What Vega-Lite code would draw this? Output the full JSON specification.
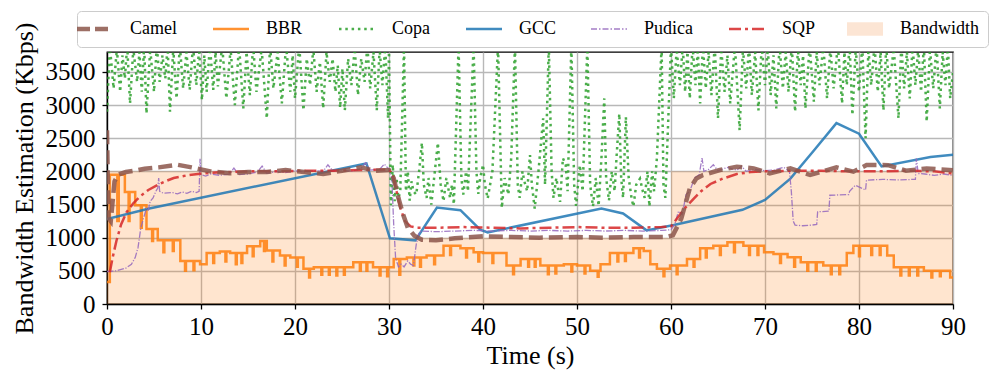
{
"$schema": "https://vega.github.io/schema/vega-lite/v6.json",
"width": 846, "height": 252,
"autosize": {"type": "none"},
"padding": {"left": 107, "top": 52, "right": 44, "bottom": 77},
"background": "white",
"datasets": {
"bw": [{"t":0,"v":2000},{"t":30,"v":1000},{"t":60,"v":2000},{"t":90,"v":2000}],
"gcc": [{"t":0,"v":1280},{"t":4.5,"v":1440},{"t":27.6,"v":2120},{"t":30.1,"v":990},{"t":32.8,"v":960},{"t":35.1,"v":1455},{"t":37.6,"v":1415},{"t":39.7,"v":1120},{"t":40.5,"v":1080},{"t":52.6,"v":1440},{"t":54.9,"v":1365},{"t":57.4,"v":1110},{"t":60.3,"v":1190},{"t":67.6,"v":1420},{"t":70,"v":1570},{"t":72.7,"v":1890},{"t":75.2,"v":2315},{"t":77.6,"v":2728},{"t":80,"v":2568},{"t":82.4,"v":2074},{"t":87.6,"v":2215},{"t":90,"v":2250}],
"camel": [{"t":0,"v":2620},{"t":0.15,"v":1300},{"t":0.4,"v":1250},{"t":0.8,"v":1850},{"t":1.2,"v":1950},{"t":2,"v":1990},{"t":3,"v":2010},{"t":4,"v":2040},{"t":5.5,"v":2060},{"t":7.5,"v":2100},{"t":9,"v":2060},{"t":11,"v":2000},{"t":13,"v":1970},{"t":15,"v":1990},{"t":17,"v":1990},{"t":19,"v":2020},{"t":21,"v":1990},{"t":23,"v":1960},{"t":25,"v":2010},{"t":27,"v":2060},{"t":28.5,"v":2010},{"t":30,"v":2020},{"t":30.5,"v":1900},{"t":31,"v":1600},{"t":31.5,"v":1350},{"t":32,"v":1150},{"t":32.7,"v":1030},{"t":33.5,"v":970},{"t":35,"v":960},{"t":37,"v":990},{"t":40,"v":1020},{"t":43,"v":1010},{"t":46,"v":1000},{"t":50,"v":1010},{"t":53,"v":1000},{"t":56,"v":1010},{"t":59.5,"v":1010},{"t":60.2,"v":1036},{"t":61.1,"v":1290},{"t":62,"v":1743},{"t":62.7,"v":1894},{"t":63.4,"v":1945},{"t":65.2,"v":2020},{"t":67,"v":2070},{"t":68.8,"v":2045},{"t":70.5,"v":1970},{"t":72.7,"v":2045},{"t":74.8,"v":1945},{"t":76.6,"v":2020},{"t":77.6,"v":2060},{"t":79.4,"v":1995},{"t":80.8,"v":2095},{"t":83.1,"v":2094},{"t":85,"v":2010},{"t":87.2,"v":2044},{"t":90,"v":2018}],
"sqp": [{"t":0.3,"v":480},{"t":0.6,"v":700},{"t":1.0,"v":950},{"t":1.5,"v":1200},{"t":2.1,"v":1390},{"t":2.8,"v":1520},{"t":3.5,"v":1620},{"t":4.4,"v":1720},{"t":5.3,"v":1790},{"t":6.2,"v":1850},{"t":7.1,"v":1900},{"t":8.5,"v":1940},{"t":9.9,"v":1965},{"t":12,"v":1985},{"t":15,"v":2000},{"t":18,"v":2000},{"t":21,"v":2010},{"t":24,"v":2010},{"t":27,"v":2020},{"t":30,"v":2030},{"t":30.4,"v":1950},{"t":30.8,"v":1700},{"t":31.2,"v":1450},{"t":31.7,"v":1250},{"t":32.3,"v":1170},{"t":33,"v":1150},{"t":35,"v":1150},{"t":38,"v":1160},{"t":41,"v":1150},{"t":44,"v":1140},{"t":47,"v":1150},{"t":50,"v":1160},{"t":53,"v":1150},{"t":56,"v":1150},{"t":59,"v":1160},{"t":60,"v":1170},{"t":60.7,"v":1300},{"t":61.5,"v":1450},{"t":62.4,"v":1585},{"t":63.2,"v":1700},{"t":64.2,"v":1810},{"t":65.5,"v":1890},{"t":67,"v":1960},{"t":68.5,"v":1990},{"t":70,"v":2000},{"t":73,"v":2010},{"t":76,"v":2010},{"t":79,"v":2000},{"t":82,"v":2000},{"t":85,"v":2010},{"t":88,"v":2000},{"t":90,"v":1970}],
"pudica": [{"t":0,"v":490},{"t":1,"v":500},{"t":2,"v":540},{"t":2.6,"v":600},{"t":3,"v":700},{"t":3.3,"v":850},{"t":3.6,"v":1150},{"t":3.9,"v":1300},{"t":4.2,"v":1450},{"t":4.4,"v":1420},{"t":4.6,"v":1550},{"t":4.9,"v":1600},{"t":5.2,"v":1700},{"t":5.4,"v":1750},{"t":5.5,"v":1900},{"t":5.6,"v":1700},{"t":6,"v":1670},{"t":7,"v":1680},{"t":7.5,"v":1660},{"t":8,"v":1690},{"t":8.5,"v":1670},{"t":9,"v":1700},{"t":9.5,"v":1680},{"t":9.8,"v":1700},{"t":9.9,"v":2190},{"t":10,"v":1950},{"t":10.5,"v":1930},{"t":11,"v":1960},{"t":12,"v":1940},{"t":13,"v":1960},{"t":13.5,"v":2050},{"t":14,"v":1950},{"t":15,"v":1960},{"t":16,"v":1990},{"t":16.5,"v":2080},{"t":17,"v":1970},{"t":18,"v":2000},{"t":19,"v":1980},{"t":20,"v":2010},{"t":21,"v":1990},{"t":22,"v":2010},{"t":23,"v":2000},{"t":23.5,"v":2100},{"t":24,"v":2010},{"t":25,"v":2020},{"t":26,"v":2000},{"t":27,"v":2040},{"t":27.5,"v":2130},{"t":28,"v":2020},{"t":29,"v":2030},{"t":29.5,"v":2110},{"t":30,"v":2030},{"t":30.3,"v":1900},{"t":30.5,"v":1200},{"t":30.7,"v":700},{"t":31,"v":560},{"t":31.3,"v":600},{"t":31.6,"v":560},{"t":32,"v":650},{"t":32.3,"v":600},{"t":32.6,"v":580},{"t":32.9,"v":900},{"t":33.2,"v":1080},{"t":33.5,"v":1100},{"t":35,"v":1090},{"t":37,"v":1100},{"t":39,"v":1110},{"t":41,"v":1100},{"t":43,"v":1110},{"t":45,"v":1100},{"t":47,"v":1110},{"t":49,"v":1100},{"t":51,"v":1110},{"t":53,"v":1100},{"t":55,"v":1110},{"t":57,"v":1100},{"t":59,"v":1110},{"t":60,"v":1120},{"t":60.4,"v":1200},{"t":60.8,"v":1400},{"t":61.2,"v":1350},{"t":61.6,"v":1650},{"t":62,"v":1700},{"t":62.5,"v":1900},{"t":63,"v":1950},{"t":63.3,"v":2200},{"t":63.5,"v":2000},{"t":64,"v":2030},{"t":64.5,"v":2100},{"t":65,"v":2010},{"t":66,"v":2060},{"t":67,"v":2020},{"t":67.5,"v":2080},{"t":68,"v":2000},{"t":69,"v":2030},{"t":70,"v":2010},{"t":71,"v":2020},{"t":72,"v":2060},{"t":72.6,"v":2000},{"t":72.8,"v":1700},{"t":73,"v":1250},{"t":73.2,"v":1190},{"t":74,"v":1180},{"t":75,"v":1190},{"t":75.5,"v":1200},{"t":75.6,"v":1390},{"t":76.8,"v":1400},{"t":76.9,"v":1640},{"t":78.9,"v":1650},{"t":79,"v":1700},{"t":79.6,"v":1790},{"t":80.7,"v":1720},{"t":80.8,"v":1867},{"t":82.5,"v":1880},{"t":84,"v":1870},{"t":86,"v":1880},{"t":86.1,"v":2195},{"t":86.3,"v":1968},{"t":87,"v":1960},{"t":88,"v":1940},{"t":89,"v":1960},{"t":90,"v":1940}],
"bbr": [{"t":0,"v":330},{"t":0.3,"v":1950},{"t":1.1,"v":1250},{"t":1.25,"v":1950},{"t":1.9,"v":1690},{"t":2.3,"v":1250},{"t":2.4,"v":1690},{"t":3.0,"v":1490},{"t":3.6,"v":1150},{"t":3.7,"v":1490},{"t":4.2,"v":1130},{"t":4.8,"v":950},{"t":4.9,"v":1130},{"t":5.4,"v":960},{"t":6.0,"v":780},{"t":6.1,"v":960},{"t":7.0,"v":800},{"t":7.1,"v":960},{"t":7.8,"v":650},{"t":8.3,"v":500},{"t":8.4,"v":650},{"t":9.2,"v":510},{"t":9.3,"v":650},{"t":9.9,"v":600},{"t":10.6,"v":770},{"t":11.3,"v":620},{"t":11.4,"v":770},{"t":12.0,"v":790},{"t":12.6,"v":640},{"t":12.7,"v":790},{"t":13.1,"v":770},{"t":13.7,"v":600},{"t":13.8,"v":770},{"t":14.3,"v":620},{"t":14.4,"v":770},{"t":14.9,"v":870},{"t":15.5,"v":720},{"t":15.6,"v":870},{"t":16.3,"v":950},{"t":16.7,"v":800},{"t":16.8,"v":950},{"t":17.0,"v":805},{"t":17.6,"v":640},{"t":17.7,"v":805},{"t":18.4,"v":730},{"t":18.9,"v":580},{"t":19.0,"v":730},{"t":19.5,"v":700},{"t":20.2,"v":560},{"t":20.3,"v":700},{"t":20.9,"v":530},{"t":21.5,"v":400},{"t":21.6,"v":530},{"t":22.0,"v":555},{"t":22.8,"v":440},{"t":22.9,"v":555},{"t":23.6,"v":440},{"t":23.7,"v":555},{"t":24.4,"v":430},{"t":24.5,"v":555},{"t":25.2,"v":440},{"t":25.3,"v":555},{"t":26.2,"v":630},{"t":26.9,"v":500},{"t":27.0,"v":630},{"t":27.6,"v":500},{"t":27.7,"v":630},{"t":28.3,"v":555},{"t":29.0,"v":430},{"t":29.1,"v":555},{"t":29.8,"v":420},{"t":29.9,"v":555},{"t":30.5,"v":680},{"t":31.1,"v":440},{"t":31.2,"v":680},{"t":31.9,"v":700},{"t":32.6,"v":580},{"t":32.7,"v":700},{"t":33.3,"v":560},{"t":33.4,"v":700},{"t":34.0,"v":730},{"t":34.8,"v":600},{"t":34.9,"v":730},{"t":35.8,"v":880},{"t":36.5,"v":740},{"t":36.6,"v":880},{"t":37.6,"v":840},{"t":38.2,"v":700},{"t":38.3,"v":840},{"t":39.0,"v":780},{"t":39.5,"v":640},{"t":39.6,"v":780},{"t":40.0,"v":770},{"t":41.0,"v":620},{"t":41.1,"v":770},{"t":42.5,"v":580},{"t":43.2,"v":450},{"t":43.3,"v":580},{"t":44.0,"v":680},{"t":44.8,"v":560},{"t":44.9,"v":680},{"t":45.5,"v":560},{"t":45.6,"v":680},{"t":46.1,"v":580},{"t":46.9,"v":450},{"t":47.0,"v":580},{"t":47.7,"v":460},{"t":47.8,"v":580},{"t":48.6,"v":600},{"t":49.4,"v":490},{"t":49.5,"v":600},{"t":50.0,"v":580},{"t":50.8,"v":460},{"t":50.9,"v":580},{"t":51.4,"v":500},{"t":52.2,"v":410},{"t":52.3,"v":500},{"t":52.5,"v":600},{"t":53.5,"v":770},{"t":54.3,"v":640},{"t":54.4,"v":770},{"t":55.1,"v":650},{"t":55.2,"v":770},{"t":56.0,"v":840},{"t":56.6,"v":700},{"t":56.7,"v":840},{"t":57.1,"v":800},{"t":57.8,"v":600},{"t":58.5,"v":530},{"t":59.2,"v":420},{"t":59.3,"v":530},{"t":59.9,"v":580},{"t":60.6,"v":450},{"t":60.7,"v":580},{"t":61.7,"v":680},{"t":62.4,"v":560},{"t":62.5,"v":680},{"t":63.1,"v":840},{"t":63.7,"v":700},{"t":63.8,"v":840},{"t":64.5,"v":880},{"t":65.2,"v":740},{"t":65.3,"v":880},{"t":66.0,"v":930},{"t":66.7,"v":780},{"t":66.8,"v":930},{"t":67.7,"v":880},{"t":68.3,"v":740},{"t":68.4,"v":880},{"t":69.2,"v":740},{"t":69.3,"v":880},{"t":69.9,"v":780},{"t":70.9,"v":755},{"t":71.6,"v":620},{"t":71.7,"v":755},{"t":72.4,"v":705},{"t":73.1,"v":560},{"t":73.2,"v":705},{"t":73.8,"v":630},{"t":74.5,"v":500},{"t":74.6,"v":630},{"t":75.4,"v":500},{"t":75.5,"v":630},{"t":76.2,"v":580},{"t":77.0,"v":450},{"t":77.1,"v":580},{"t":77.9,"v":450},{"t":78.0,"v":580},{"t":78.7,"v":770},{"t":79.4,"v":880},{"t":80.0,"v":720},{"t":80.1,"v":880},{"t":81.3,"v":740},{"t":81.4,"v":880},{"t":82.2,"v":740},{"t":82.3,"v":880},{"t":83.0,"v":730},{"t":83.7,"v":555},{"t":84.4,"v":430},{"t":84.5,"v":555},{"t":85.3,"v":430},{"t":85.4,"v":555},{"t":86.2,"v":430},{"t":86.3,"v":555},{"t":86.9,"v":500},{"t":87.7,"v":400},{"t":87.8,"v":500},{"t":88.6,"v":420},{"t":88.7,"v":500},{"t":89.7,"v":400},{"t":90,"v":400}],
"copa": [{"t":0,"v":2900},{"t":0.3,"v":3900},{"t":0.7,"v":3250},{"t":1.05,"v":3850},{"t":1.4,"v":3200},{"t":1.65,"v":3750},{"t":1.9,"v":3400},{"t":2.15,"v":3900},{"t":2.45,"v":3025},{"t":2.8,"v":3850},{"t":3.2,"v":3350},{"t":3.45,"v":3800},{"t":3.7,"v":3200},{"t":3.95,"v":3900},{"t":4.2,"v":2874},{"t":4.6,"v":3850},{"t":5.0,"v":3200},{"t":5.3,"v":3900},{"t":5.6,"v":3350},{"t":5.9,"v":3750},{"t":6.2,"v":3400},{"t":6.45,"v":3900},{"t":6.7,"v":2900},{"t":7.05,"v":3850},{"t":7.4,"v":3100},{"t":7.75,"v":3900},{"t":8.1,"v":3250},{"t":8.45,"v":3800},{"t":8.8,"v":3230},{"t":9.15,"v":3900},{"t":9.5,"v":3300},{"t":9.8,"v":3850},{"t":10.1,"v":3075},{"t":10.35,"v":3750},{"t":10.6,"v":3200},{"t":10.95,"v":3900},{"t":11.3,"v":3230},{"t":11.55,"v":3800},{"t":11.8,"v":3280},{"t":12.25,"v":3900},{"t":12.7,"v":3100},{"t":13.15,"v":3850},{"t":13.6,"v":3000},{"t":14.05,"v":3900},{"t":14.5,"v":2950},{"t":14.85,"v":3800},{"t":15.2,"v":3150},{"t":15.55,"v":3900},{"t":15.9,"v":3200},{"t":16.45,"v":3850},{"t":17.0,"v":2800},{"t":17.35,"v":3900},{"t":17.7,"v":3250},{"t":18.15,"v":3800},{"t":18.6,"v":3025},{"t":19.05,"v":3900},{"t":19.5,"v":3200},{"t":19.75,"v":3750},{"t":20.0,"v":3100},{"t":20.45,"v":3900},{"t":20.9,"v":2920},{"t":21.25,"v":3700},{"t":21.6,"v":3300},{"t":21.95,"v":3850},{"t":22.3,"v":3200},{"t":22.65,"v":3650},{"t":23.0,"v":2950},{"t":23.35,"v":3800},{"t":23.7,"v":3350},{"t":24.0,"v":3700},{"t":24.3,"v":3200},{"t":24.55,"v":3600},{"t":24.8,"v":2960},{"t":25.05,"v":3550},{"t":25.3,"v":2920},{"t":25.65,"v":3700},{"t":26.0,"v":3300},{"t":26.35,"v":3850},{"t":26.7,"v":3150},{"t":27.05,"v":3700},{"t":27.4,"v":3350},{"t":27.7,"v":3900},{"t":28.0,"v":3250},{"t":28.35,"v":3800},{"t":28.7,"v":2920},{"t":29.0,"v":3850},{"t":29.3,"v":3300},{"t":29.6,"v":3900},{"t":29.9,"v":2800},{"t":30.0,"v":3850},{"t":30.2,"v":1490},{"t":30.4,"v":2100},{"t":30.6,"v":1550},{"t":30.8,"v":1900},{"t":31.0,"v":1600},{"t":31.2,"v":1700},{"t":31.6,"v":3900},{"t":31.8,"v":1700},{"t":32.0,"v":2000},{"t":32.2,"v":1560},{"t":32.4,"v":1850},{"t":32.6,"v":1700},{"t":32.9,"v":1650},{"t":33.2,"v":2000},{"t":33.5,"v":2430},{"t":33.7,"v":1800},{"t":34.0,"v":1600},{"t":34.2,"v":1900},{"t":34.5,"v":1500},{"t":34.8,"v":1900},{"t":35.2,"v":2430},{"t":35.5,"v":1800},{"t":35.8,"v":1550},{"t":36.1,"v":1900},{"t":36.5,"v":1600},{"t":36.7,"v":1800},{"t":36.9,"v":1500},{"t":37.4,"v":3900},{"t":37.7,"v":1900},{"t":37.9,"v":1650},{"t":38.2,"v":2000},{"t":38.4,"v":1700},{"t":39.0,"v":3900},{"t":39.3,"v":2000},{"t":39.5,"v":1660},{"t":39.7,"v":1900},{"t":40.0,"v":2100},{"t":40.2,"v":1800},{"t":40.5,"v":1590},{"t":41.0,"v":2000},{"t":41.6,"v":3900},{"t":42.0,"v":1450},{"t":42.3,"v":1900},{"t":42.7,"v":1650},{"t":43.0,"v":2200},{"t":43.4,"v":3900},{"t":43.7,"v":1800},{"t":43.9,"v":1600},{"t":44.2,"v":2000},{"t":44.4,"v":1850},{"t":44.7,"v":1700},{"t":45.0,"v":2245},{"t":45.2,"v":1800},{"t":45.5,"v":1440},{"t":45.9,"v":2000},{"t":46.4,"v":2800},{"t":46.6,"v":1800},{"t":47.0,"v":3900},{"t":47.3,"v":2000},{"t":47.5,"v":1600},{"t":47.8,"v":1900},{"t":48.2,"v":1540},{"t":48.5,"v":2200},{"t":48.8,"v":2100},{"t":49.0,"v":1700},{"t":49.4,"v":3900},{"t":49.7,"v":1800},{"t":49.9,"v":1480},{"t":50.3,"v":2095},{"t":50.6,"v":1700},{"t":51.1,"v":3900},{"t":51.4,"v":1800},{"t":51.7,"v":1470},{"t":52.0,"v":1900},{"t":52.3,"v":1480},{"t":52.6,"v":2200},{"t":52.9,"v":3100},{"t":53.1,"v":1900},{"t":53.4,"v":1560},{"t":53.7,"v":2000},{"t":54.0,"v":1700},{"t":54.2,"v":2200},{"t":54.5,"v":2870},{"t":54.7,"v":1900},{"t":54.9,"v":1600},{"t":55.2,"v":2820},{"t":55.5,"v":1900},{"t":55.8,"v":1600},{"t":56.0,"v":1470},{"t":56.3,"v":1800},{"t":56.7,"v":1890},{"t":57.0,"v":1700},{"t":57.2,"v":1600},{"t":57.5,"v":2000},{"t":57.7,"v":1470},{"t":58.0,"v":2000},{"t":58.2,"v":1700},{"t":58.5,"v":2200},{"t":59.0,"v":3900},{"t":59.2,"v":1800},{"t":59.4,"v":1600},{"t":60.0,"v":3900},{"t":60.3,"v":3100},{"t":60.6,"v":3850},{"t":60.95,"v":3300},{"t":61.25,"v":3900},{"t":61.5,"v":3200},{"t":61.75,"v":3800},{"t":62.0,"v":3100},{"t":62.3,"v":3900},{"t":62.6,"v":3300},{"t":62.85,"v":3850},{"t":63.1,"v":3025},{"t":63.4,"v":3900},{"t":63.7,"v":3250},{"t":64.0,"v":3800},{"t":64.3,"v":3150},{"t":64.65,"v":3900},{"t":65.0,"v":2800},{"t":65.35,"v":3850},{"t":65.7,"v":3200},{"t":66.0,"v":3750},{"t":66.3,"v":3025},{"t":66.8,"v":3900},{"t":67.3,"v":2620},{"t":67.65,"v":3850},{"t":68.0,"v":3250},{"t":68.3,"v":3900},{"t":68.6,"v":3150},{"t":68.95,"v":3800},{"t":69.3,"v":2920},{"t":69.65,"v":3900},{"t":70.0,"v":3300},{"t":70.3,"v":3850},{"t":70.6,"v":3150},{"t":70.9,"v":3750},{"t":71.2,"v":2950},{"t":71.55,"v":3900},{"t":71.9,"v":3250},{"t":72.2,"v":3800},{"t":72.5,"v":3200},{"t":72.85,"v":3900},{"t":73.2,"v":2900},{"t":73.5,"v":3850},{"t":73.8,"v":3300},{"t":74.05,"v":3750},{"t":74.3,"v":2950},{"t":74.75,"v":3900},{"t":75.2,"v":3050},{"t":75.5,"v":3800},{"t":75.8,"v":3300},{"t":76.2,"v":3900},{"t":76.6,"v":3100},{"t":76.95,"v":3850},{"t":77.3,"v":3250},{"t":77.75,"v":3900},{"t":78.2,"v":3025},{"t":78.45,"v":3800},{"t":78.7,"v":3300},{"t":79.0,"v":3900},{"t":79.3,"v":2850},{"t":79.65,"v":3850},{"t":80.0,"v":3200},{"t":80.35,"v":3900},{"t":80.7,"v":2500},{"t":81.0,"v":3850},{"t":81.3,"v":3300},{"t":81.65,"v":3900},{"t":82.0,"v":3200},{"t":82.3,"v":3800},{"t":82.6,"v":2920},{"t":82.9,"v":3900},{"t":83.2,"v":3250},{"t":83.7,"v":3850},{"t":84.2,"v":2800},{"t":84.5,"v":3900},{"t":84.8,"v":3250},{"t":85.1,"v":3800},{"t":85.4,"v":3100},{"t":85.7,"v":3900},{"t":86.0,"v":3300},{"t":86.3,"v":3850},{"t":86.6,"v":3200},{"t":86.9,"v":3900},{"t":87.2,"v":2750},{"t":87.55,"v":3850},{"t":87.9,"v":3250},{"t":88.25,"v":3900},{"t":88.6,"v":2950},{"t":88.9,"v":3800},{"t":89.2,"v":3300},{"t":89.45,"v":3900},{"t":89.7,"v":3100},{"t":90.0,"v":3500}]
},
"encoding": {
  "x": {"field": "t", "type": "quantitative", "scale": {"domain": [0, 90], "nice": false, "zero": false},
        "axis": {"values": [0,10,20,30,40,50,60,70,80,90], "title": "Time (s)", "labelPadding": 5, "titlePadding": 3, "format": "d", "labelFlush": false}},
  "y": {"field": "v", "type": "quantitative", "scale": {"domain": [0, 3800], "nice": false},
        "axis": {"values": [0,500,1000,1500,2000,2500,3000,3500], "title": "Bandwidth Estimation (Kbps)", "labelPadding": 7, "titlePadding": 8, "format": "d", "labelFlush": false}}
},
"layer": [
  {"data": {"name": "bw"}, "mark": {"type": "area", "interpolate": "step-after", "fill": "#ff7f0e", "fillOpacity": 0.2}},
  {"data": {"name": "bbr"}, "mark": {"type": "line", "interpolate": "step-after", "strokeWidth": 2.5, "opacity": 0.85, "clip": true},
   "encoding": {"color": {"datum": "BBR", "type": "nominal",
     "scale": {"domain": ["Camel","BBR","Copa","GCC","Pudica","SQP","Bandwidth"], "range": ["#8c564b","#ff7f0e","#2ca02c","#1f77b4","#9467bd","#d62728","#fbe1cd"]},
     "legend": {"orient": "none", "legendX": -30, "legendY": -41, "direction": "horizontal", "title": null,
       "symbolType": "stroke", "symbolSize": 1296, "symbolStrokeWidth": 2.5, "symbolOpacity": 0.85,
       "labelFont": "Liberation Serif", "labelFontSize": 18, "labelColor": "black", "labelOffset": 26, "labelLimit": 300,
       "columnPadding": 31, "padding": 9, "fillColor": "rgba(255,255,255,0.85)", "strokeColor": "#cccccc", "cornerRadius": 4,
       "encode": {"symbols": {"update": {
         "shape": {"signal": "datum.value === 'Bandwidth' ? 'M-1,-0.38H1V0.38H-1Z' : 'stroke'"},
         "fill": {"signal": "datum.value === 'Bandwidth' ? '#fbe1cd' : 'transparent'"},
         "strokeDash": {"signal": "datum.value === 'Camel' ? [13,5] : datum.value === 'Copa' ? [2.5,3.8] : datum.value === 'Pudica' ? [6,2,1.5,2] : datum.value === 'SQP' ? [12,4,3,4] : null"},
         "strokeWidth": {"signal": "datum.value === 'Camel' ? 4.5 : datum.value === 'Pudica' ? 1.3 : datum.value === 'Bandwidth' ? 0 : 2.5"}
       }}}
     }}}},
  {"data": {"name": "copa"}, "mark": {"type": "line", "strokeWidth": 2.5, "strokeDash": [2.5, 4], "opacity": 0.85, "clip": true},
   "encoding": {"color": {"datum": "Copa", "type": "nominal"}}},
  {"data": {"name": "gcc"}, "mark": {"type": "line", "strokeWidth": 2.5, "opacity": 0.85, "clip": true},
   "encoding": {"color": {"datum": "GCC", "type": "nominal"}}},
  {"data": {"name": "pudica"}, "mark": {"type": "line", "strokeWidth": 1.3, "strokeDash": [6.4, 1.6, 1.2, 1.6], "opacity": 0.85, "clip": true},
   "encoding": {"color": {"datum": "Pudica", "type": "nominal"}}},
  {"data": {"name": "sqp"}, "mark": {"type": "line", "strokeWidth": 2.5, "strokeDash": [12, 4, 3, 4], "opacity": 0.85, "clip": true},
   "encoding": {"color": {"datum": "SQP", "type": "nominal"}}},
  {"data": {"name": "camel"}, "mark": {"type": "line", "strokeWidth": 4.5, "strokeDash": [14, 6], "opacity": 0.85, "clip": true},
   "encoding": {"color": {"datum": "Camel", "type": "nominal"}}}
],
"config": {
  "view": {"stroke": "black", "strokeWidth": 1.3},
  "font": "Liberation Serif",
  "legend": {"labelFont": "Liberation Serif", "labelFontSize": 18},
  "axis": {"labelFont": "Liberation Serif", "titleFont": "Liberation Serif", "labelFontSize": 25, "titleFontSize": 26,
           "titleFontWeight": "normal", "labelColor": "black", "titleColor": "black",
           "domainColor": "black", "domainWidth": 1.3, "tickColor": "black", "tickSize": 5, "tickWidth": 1.3,
           "gridColor": "#b8b8b8", "gridWidth": 1.4}
}
}
